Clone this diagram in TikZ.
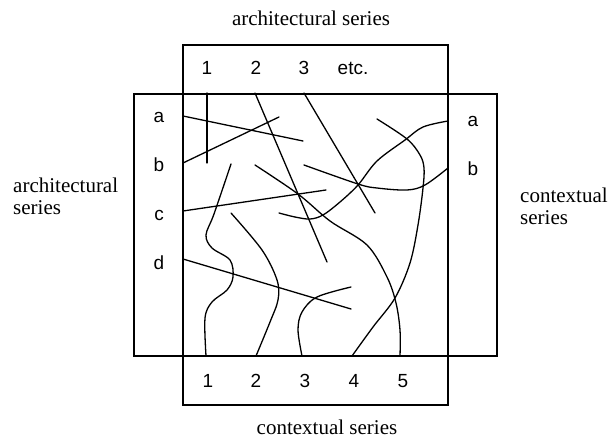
\documentclass[tikz,border=0pt]{standalone}
\usepackage{fontspec}
\setmainfont{Liberation Serif}
\setsansfont{Liberation Sans}
\usepackage{tikz}
\usetikzlibrary{positioning}
\tikzset{
  % rammar
  serbox/.style={draw=black,line width=1.3pt},
  strand/.style={draw=black,line width=1.3pt,line cap=round,line join=round},
  % texter
  numlbl/.style={font=\sffamily\fontsize{19}{22}\selectfont,inner sep=0pt,anchor=base},
  serlbl/.style={font=\fontsize{21}{22}\selectfont,inner sep=0pt,align=left},
}
\begin{document}
\begin{tikzpicture}[x=1pt,y=-1pt]
\useasboundingbox (0,0) rectangle (612,441);
  % the two series frames
  \draw[serbox] (183,45) rectangle (448,405);
  \draw[serbox] (134,94) rectangle (497,356);
  % captions
  \node[serlbl,anchor=base] (archtop) at (311,26) {architectural series};
  \node[serlbl,anchor=base] (ctxbot) at (327,434) {contextual series};
  \node[serlbl,anchor=west] (archleft) at (13,196) {architectural\\series};
  \node[serlbl,anchor=west] (ctxright) at (520,206) {contextual\\series};
  % architectural indices
  \node[numlbl] (t1) at (207,75) {1};
  \node[numlbl] (t2) at (256,75) {2};
  \node[numlbl] (t3) at (304,75) {3};
  \node[numlbl] (tetc) at (353,75) {etc.};
  \node[numlbl] (la) at (159,122) {a};
  \node[numlbl] (lb) at (159,171) {b};
  \node[numlbl] (lc) at (159,220) {c};
  \node[numlbl] (ld) at (159,269) {d};
  % contextual indices
  \node[numlbl] (ra) at (473,126) {a};
  \node[numlbl] (rb) at (473,175) {b};
  \foreach \i/\x in {1/208,2/256,3/305,4/354,5/403}
    \node[numlbl] (b\i) at (\x,387) {\i};
  % straight strands
  \draw[strand] (207,93) -- (207,163);
  \draw[strand] (183,116) -- (303,141);
  \draw[strand] (183,163) -- (279,117);
  \draw[strand] (255,93) -- (327,262);
  \draw[strand] (304,93) -- (375,213);
  \draw[strand] (183,211) -- (326,190);
  \draw[strand] (183,259) -- (351,309);
  % curved strands
  \draw[strand] plot[smooth,tension=0.55] coordinates {(351,287) (317,297) (302,312) (298,330) (302,356)};
  \draw[strand] plot[smooth,tension=0.55] coordinates {(231,164) (214,214) (206,235) (212,248) (230,260) (233,277) (227,290) (212,302) (205,318) (206,356)};
  \draw[strand] plot[smooth,tension=0.55] coordinates {(231,213) (262,250) (277,280) (278,300) (270,322) (256,356)};
  \draw[strand] plot[smooth,tension=0.55] coordinates {(255,165) (298,194) (330,221) (367,245) (387,277) (396,303) (400,330) (400,356)};
  \draw[strand] plot[smooth,tension=0.55] coordinates {(304,165) (358,184) (377,188) (407,190) (425,185) (448,168)};
  \draw[strand] plot[smooth,tension=0.55] coordinates {(279,213) (295,217) (310,219) (323,215) (340,202) (358,185) (377,161) (405,140) (423,127) (448,121)};
  \draw[strand] plot[smooth,tension=0.55] coordinates {(377,119) (407,139) (420,155) (424,168) (423,188) (418,225) (410,263) (395,298) (373,327) (352,356)};
\end{tikzpicture}
\end{document}
